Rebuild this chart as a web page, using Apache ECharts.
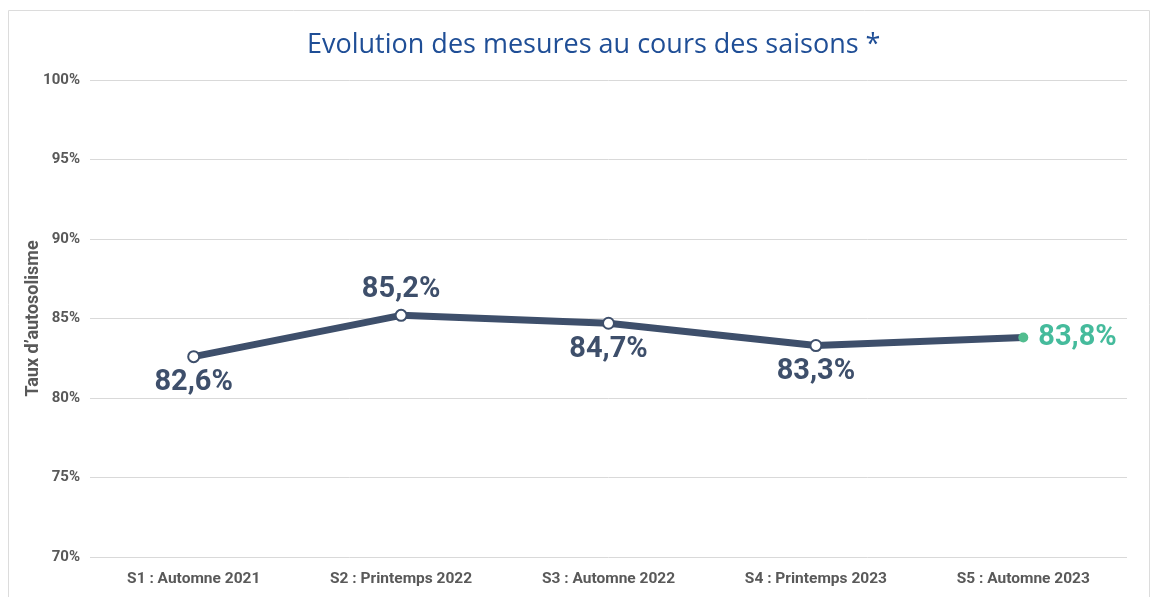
<!DOCTYPE html>
<html>
<head>
<meta charset="utf-8">
<script src="https://cdn.jsdelivr.net/npm/echarts@6/dist/echarts.min.js"></script>
<style>
html,body{margin:0;padding:0;background:#fff;}
#main{width:1158px;height:597px;}
</style>
</head>
<body>
<div id="main"></div>
<script>
// donnees
var saisons = ['S1 : Automne 2021', 'S2 : Printemps 2022', 'S3 : Automne 2022', 'S4 : Printemps 2023', 'S5 : Automne 2023'];
var taux = [82.6, 85.2, 84.7, 83.3, 83.8];
var labelPos = ['bottom', 'top', 'bottom', 'bottom', 'right'];

var dark = '#3e4f6b';
var police = 'Roboto';
var chart = echarts.init(document.getElementById('main'));

var points = [];
for (var i = 0; i < taux.length; i++) {
  var last = (i == taux.length - 1);
  points.push({
    value: taux[i],
    symbolSize: last ? 10 : 11,
    itemStyle: last ? { color: '#52bd8f', borderColor: '#52bd8f', borderWidth: 0 } : { color: '#fff', borderColor: dark, borderWidth: 2 },
    label: {
      position: labelPos[i],
      distance: last ? 10 : 5,
      color: last ? '#45bb9c' : dark
    }
  });
}

var option = {
  animation: false,
  title: {
    text: 'Evolution des mesures au cours des saisons *',
    left: 302,
    top: 27,
    textStyle: { color: '#1f4e96', fontSize: 27, fontWeight: 'normal', fontFamily: 'Open Sans' }
  },
  graphic: [{
    type: 'rect',
    shape: { x: 8.5, y: 10.5, width: 1141, height: 600 },
    style: { fill: 'none', stroke: '#dcdcdc', lineWidth: 1 },
    silent: true
  }],
  grid: { left: 90, right: 31, top: 80, bottom: 40 },
  xAxis: {
    type: 'category',
    data: saisons,
    boundaryGap: true,
    axisLine: { show: false },
    axisTick: { show: false },
    axisLabel: { color: '#595959', fontSize: 15.5, fontWeight: 'bold', fontFamily: police, margin: 14 }
  },
  yAxis: {
    type: 'value',
    min: 70,
    max: 100,
    interval: 5,
    name: "Taux d\u2019autosolisme",
    nameLocation: 'middle',
    nameGap: 48,
    nameMoveOverlap: false,
    nameTextStyle: { color: '#595959', fontSize: 18, fontWeight: 'bold', fontFamily: police },
    axisLabel: { color: '#595959', fontSize: 15, fontWeight: 'bold', fontFamily: police, margin: 10, formatter: '{value}%' },
    splitLine: { lineStyle: { color: '#d9d9d9', width: 1 } }
  },
  series: [{
    type: 'line',
    data: points,
    symbol: 'circle',
    lineStyle: { color: dark, width: 7 },
    label: {
      show: true,
      fontSize: 29,
      fontWeight: 'bold',
      fontFamily: police,
      formatter: function (p) { return String(p.value).replace('.', ',') + '%'; }
    }
  }]
};
chart.setOption(option);
</script>
</body>
</html>
